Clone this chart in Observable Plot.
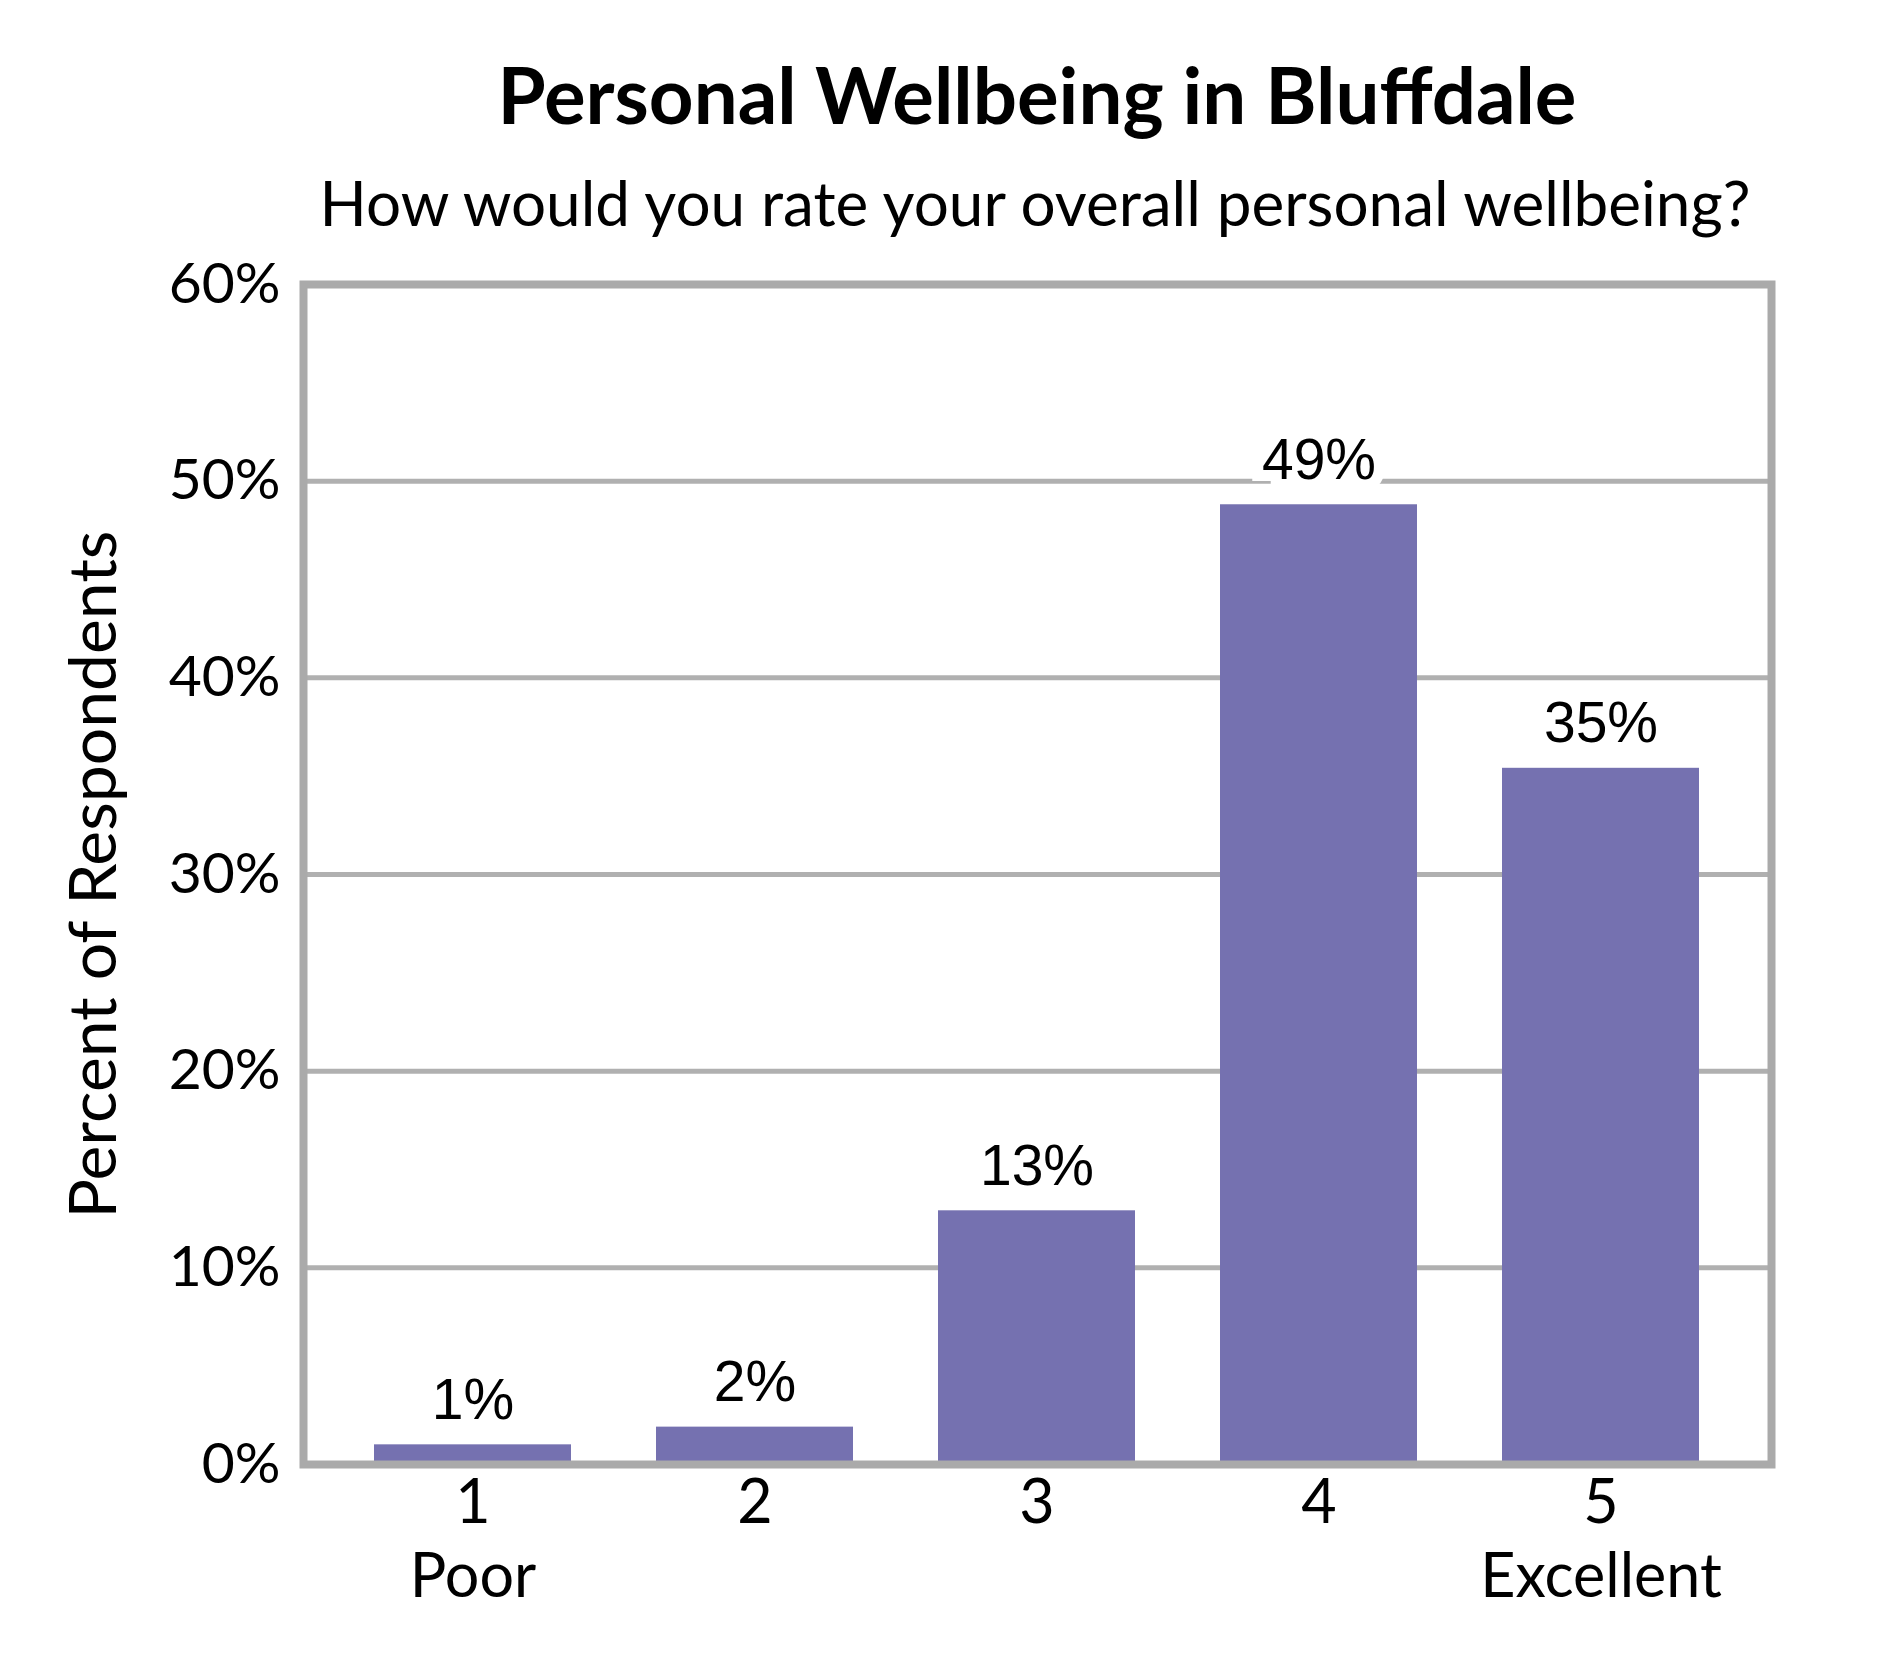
<!DOCTYPE html>
<html>
<head>
<meta charset="utf-8">
<script src="https://cdn.jsdelivr.net/npm/d3@7"></script>
<script src="https://cdn.jsdelivr.net/npm/@observablehq/plot@0.6"></script>
<style>
  body { margin: 0; background: #ffffff; width: 1890px; height: 1680px; overflow: hidden; }
  #header { position: relative; height: 200px; width: 1890px; z-index: 2; }
  #title { position: absolute; left: 1037px; top: 55px; transform: translateX(-50%);
           font-family: Lato, sans-serif; font-weight: 700; font-size: 78px; line-height: 1; white-space: nowrap; color: #000; }
  #subtitle { position: absolute; left: 1035px; top: 171px; transform: translateX(-50%);
           font-family: Lato, sans-serif; font-weight: 400; font-size: 62px; line-height: 1; white-space: nowrap; color: #000; }
  #chart svg { display: block; }
</style>
</head>
<body>
<div id="header">
  <div id="title">Personal Wellbeing in Bluffdale</div>
  <div id="subtitle">How would you rate your overall personal wellbeing?</div>
</div>
<div id="chart"></div>
<script>
const ratings = ["1", "2", "3", "4", "5"];
const anchorWords = ["Poor", "", "", "", "Excellent"];
const percents = [1.0, 1.9, 12.9, 48.8, 35.4];
const valueLabels = ["1%", "2%", "13%", "49%", "35%"];
const yTicks = [0, 10, 20, 30, 40, 50, 60];
const yTitle = "Percent of Respondents";

const rows = ratings.map((r, i) => ({rating: r, value: percents[i], label: valueLabels[i]}));

const chart = Plot.plot({
  width: 1890,
  height: 1480,
  marginLeft: 303,
  marginRight: 119,
  marginTop: 84,
  marginBottom: 216,
  style: {fontFamily: "Lato, sans-serif", background: "transparent", color: "black"},
  x: {domain: ratings, paddingInner: 0.3, paddingOuter: 0.25},
  y: {domain: [0, 60]},
  marks: [
    Plot.gridY(yTicks, {stroke: "#b0b0b0", strokeOpacity: 1, strokeWidth: 5}),
    Plot.barY(rows, {x: "rating", y: "value", fill: "#7571b0"}),
    Plot.text(rows, {x: "rating", y: "value", text: "label", lineAnchor: "bottom", dy: -26,
                     fontSize: 57, fontFamily: "Liberation Sans, Arial, sans-serif",
                     fill: "black", stroke: "white", strokeWidth: 22, strokeLinejoin: "miter"}),
    Plot.frame({stroke: "#aaaaaa", strokeWidth: 8}),
    Plot.axisY(yTicks, {tickSize: 0, tickPadding: 23, tickFormat: d => d + "%", fontSize: 57,
                        label: null, fill: "black"}),
    Plot.axisY(yTicks, {tickSize: 0, tickFormat: () => "", fontSize: 66,
                        label: yTitle, labelAnchor: "center", labelOffset: 234, labelArrow: "none", fill: "black"}),
    Plot.axisX(ratings, {tickSize: 0, tickPadding: 7, fontSize: 61, lineHeight: 1.2, label: null, fill: "black",
                         tickFormat: d => d + "\n" + anchorWords[ratings.indexOf(d)]})
  ]
});
document.getElementById("chart").appendChild(chart);
</script>
</body>
</html>
